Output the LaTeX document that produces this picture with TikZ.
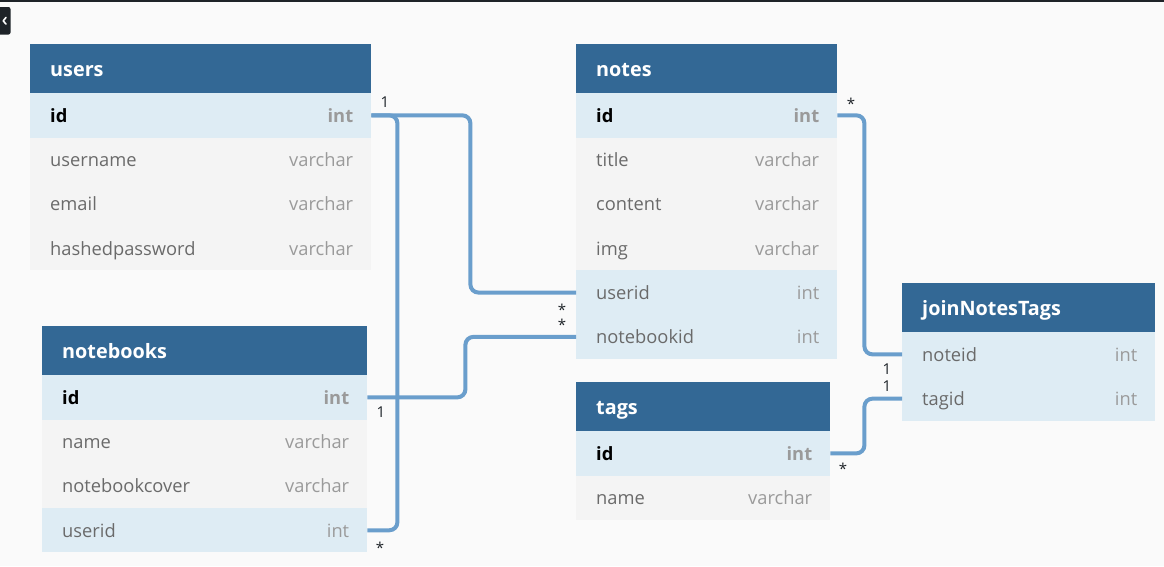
\documentclass[tikz,border=0pt]{standalone}
\usepackage{fontspec}
\setmainfont{Open Sans}
\usetikzlibrary{positioning}

\definecolor{sfondo}{HTML}{FAFAFA}
\definecolor{testata}{HTML}{336895}
\definecolor{rigablu}{HTML}{DEECF4}
\definecolor{rigagrigia}{HTML}{F4F4F4}
\definecolor{nomegrigio}{HTML}{6A6A6A}
\definecolor{tipogrigio}{HTML}{9A9A9A}
\definecolor{legame}{HTML}{6A9ECC}
\definecolor{scuro}{HTML}{1E2328}

\newcommand{\fontriga}{\fontsize{18.3}{21}\selectfont}

\tikzset{
    testa/.style={fill=testata, text=white, font=\bfseries\fontsize{19.8}{23}\selectfont,
        anchor=north west, minimum height=49, inner xsep=20, inner ysep=0, align=left,
        text height=18, text depth=3},
    chiave/.style={fill=rigablu, text=black, font=\bfseries\fontriga, text height=17, text depth=3.5},
    esterna/.style={fill=rigablu, text=nomegrigio, font=\fontriga, text height=17, text depth=3.5},
    semplice/.style={fill=rigagrigia, text=nomegrigio, font=\fontriga, text height=17, text depth=3.5},
    tipo/.style={fill=none, text=tipogrigio, anchor=east, inner sep=0},
    legamelinea/.style={draw=legame, line width=4, rounded corners=8},
    cardin/.style={text=scuro, font=\fontsize{15}{17}\selectfont, inner sep=0, anchor=base}
}

% prefisso, x, y, larghezza, titolo, campi
\newcommand{\tabella}[6]{%
    \pgfmathsetmacro{\largtesto}{#4-40}
    \node[testa, text width=\largtesto pt] (#1) at (#2,#3) {#5};
    \foreach \campo/\tipocampo/\stile [count=\i from 0] in {#6} {
        \pgfmathsetmacro{\yriga}{#3+49+44.3*\i}
        \node[\stile, anchor=north west, text width=\largtesto pt, minimum height=44.3,
            inner xsep=20, inner ysep=0, align=left] (#1-\campo) at (#2,\yriga) {\campo};
        \node[\stile, tipo, xshift=-18] (#1-\campo-tipo) at (#1-\campo.east) {\tipocampo};
    }
}

\begin{document}
\begin{tikzpicture}[x=1pt, y=-1pt]
    % Sfondo
    \useasboundingbox (0,0) rectangle (1164,566);
    \fill[sfondo] (0,0) rectangle (1164,566);
    \fill[scuro] (0,0) rectangle (1164,1.5);
    \fill[scuro, rounded corners=2] (-4,7) rectangle (10.5,34.5);
    \draw[white, line width=1.6, line cap=round, line join=round] (6,17.5) -- (3.2,20.8) -- (6,24.1);

    % Tabelle
    \tabella{users}{30}{44}{341}{users}{id/int/chiave, username/varchar/semplice,
        email/varchar/semplice, hashedpassword/varchar/semplice}
    \tabella{notes}{576}{44}{261}{notes}{id/int/chiave, title/varchar/semplice,
        content/varchar/semplice, img/varchar/semplice, userid/int/esterna,
        notebookid/int/esterna}
    \tabella{notebooks}{42}{326}{325}{notebooks}{id/int/chiave, name/varchar/semplice,
        notebookcover/varchar/semplice, userid/int/esterna}
    \tabella{tags}{576}{382}{254}{tags}{id/int/chiave, name/varchar/semplice}
    \tabella{joinNotesTags}{902}{283}{253}{joinNotesTags}{noteid/int/esterna,
        tagid/int/esterna}

    % Collegamenti
    \draw[legamelinea] (users-id.east) -- ++(99,0) |- (notes-userid.west);
    \draw[legamelinea] (users-id.east) -- ++(26,0) |- (notebooks-userid.east);
    \draw[legamelinea] (notebooks-id.east) -- ++(98,0) |- (notes-notebookid.west);
    \draw[legamelinea] (notes-id.east) -- ++(27,0) |- (joinNotesTags-noteid.west);
    \draw[legamelinea] (tags-id.east) -- ++(34,0) |- (joinNotesTags-tagid.west);

    % Cardinalita
    \node[cardin] (c-users-uno) at (385,107) {1};
    \node[cardin] (c-notes-user) at (562,315.5) {*};
    \node[cardin] (c-notes-book) at (562,330.5) {*};
    \node[cardin] (c-book-uno) at (381,417) {1};
    \node[cardin] (c-book-user) at (380,553.5) {*};
    \node[cardin] (c-notes-id) at (851,109) {*};
    \node[cardin] (c-join-note) at (887,374) {1};
    \node[cardin] (c-join-tag) at (887,391) {1};
    \node[cardin] (c-tags-id) at (843,474) {*};
\end{tikzpicture}
\end{document}
